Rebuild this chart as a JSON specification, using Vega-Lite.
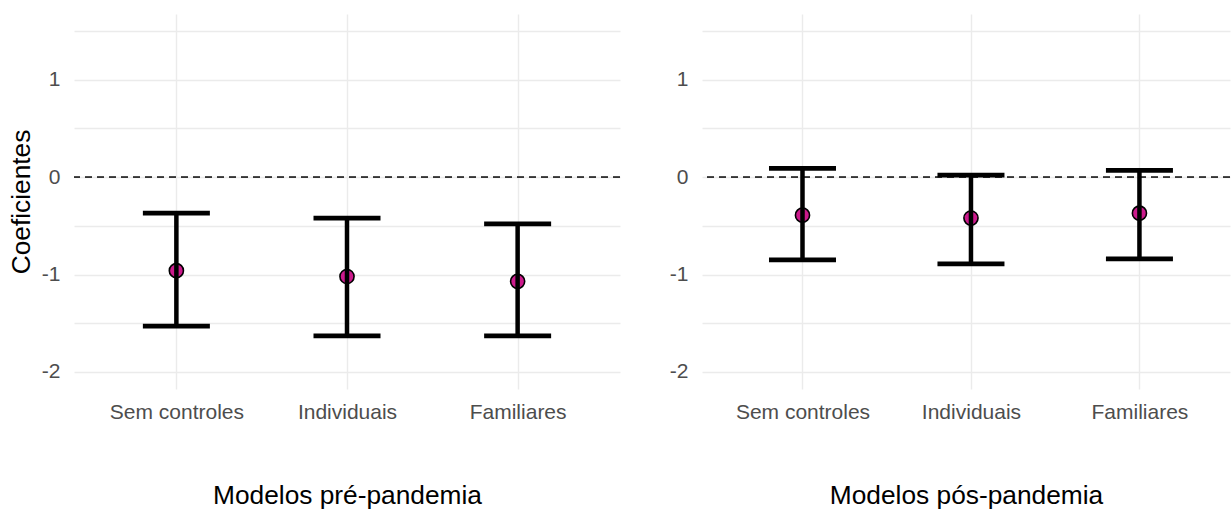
{
  "$schema": "https://vega.github.io/schema/vega-lite/v6.json",
  "background": "white",
  "padding": {"left": 8, "top": 14, "right": 0, "bottom": 0},
  "spacing": 48,
  "config": {
    "view": {"stroke": null},
    "font": "Liberation Sans",
    "axis": {
      "domain": false,
      "ticks": false,
      "grid": true,
      "gridColor": "#EBEBEB",
      "gridWidth": 1.4,
      "labelColor": "#4D4D4D",
      "labelFontSize": 21,
      "labelFont": "Liberation Sans",
      "titleFontSize": 26.3,
      "titleFont": "Liberation Sans",
      "titleFontWeight": "normal",
      "titleColor": "#000000"
    }
  },
  "datasets": {
    "pre": [
      {"modelo": "Sem controles", "est": -0.96, "lo": -1.53, "hi": -0.37},
      {"modelo": "Individuais", "est": -1.02, "lo": -1.63, "hi": -0.42},
      {"modelo": "Familiares", "est": -1.07, "lo": -1.63, "hi": -0.48}
    ],
    "pos": [
      {"modelo": "Sem controles", "est": -0.39, "lo": -0.85, "hi": 0.09},
      {"modelo": "Individuais", "est": -0.42, "lo": -0.89, "hi": 0.02},
      {"modelo": "Familiares", "est": -0.37, "lo": -0.84, "hi": 0.07}
    ]
  },
  "hconcat": [
    {
      "width": 546,
      "height": 375,
      "data": {"name": "pre"},
      "layer": [
        {
          "mark": {"type": "rule", "color": "#333333", "strokeWidth": 1.3, "strokeDash": [7, 5]},
          "encoding": {
            "y": {"datum": 0, "type": "quantitative", "scale": {"domain": [-2.175, 1.675], "nice": false, "zero": false}, "title": "Coeficientes", "axis": {"grid": true, "values": [-2, -1.5, -1, -0.5, 0, 0.5, 1, 1.5], "labelExpr": "datum.value % 1 === 0 ? '' + datum.value : ''", "labelPadding": 14, "titlePadding": 6}}
          }
        },
        {
          "mark": {"type": "circle", "color": "#CC1A8C", "stroke": "black", "strokeWidth": 1.6, "size": 200, "opacity": 1},
          "encoding": {
            "x": {"field": "modelo", "type": "nominal", "sort": ["Sem controles", "Individuais", "Familiares"], "scale": {"type": "point", "padding": 0.6}, "title": "Modelos pré-pandemia", "axis": {"labelAngle": 0, "labelPadding": 12, "titlePadding": 60, "grid": true}},
            "y": {"field": "est", "type": "quantitative", "title": "Coeficientes", "axis": {"grid": true, "values": [-2, -1.5, -1, -0.5, 0, 0.5, 1, 1.5], "labelExpr": "datum.value % 1 === 0 ? '' + datum.value : ''", "labelPadding": 14, "titlePadding": 6}}
          }
        },
        {
          "mark": {"type": "rule", "color": "black", "strokeWidth": 4.5},
          "encoding": {
            "x": {"field": "modelo", "type": "nominal", "sort": ["Sem controles", "Individuais", "Familiares"], "title": "Modelos pré-pandemia"},
            "y": {"field": "lo", "type": "quantitative", "title": "Coeficientes"},
            "y2": {"field": "hi"}
          }
        },
        {
          "mark": {"type": "tick", "color": "black", "thickness": 4.8, "size": 67, "opacity": 1, "orient": "horizontal"},
          "encoding": {
            "x": {"field": "modelo", "type": "nominal", "sort": ["Sem controles", "Individuais", "Familiares"], "title": "Modelos pré-pandemia"},
            "y": {"field": "lo", "type": "quantitative", "title": "Coeficientes"}
          }
        },
        {
          "mark": {"type": "tick", "color": "black", "thickness": 4.8, "size": 67, "opacity": 1, "orient": "horizontal"},
          "encoding": {
            "x": {"field": "modelo", "type": "nominal", "sort": ["Sem controles", "Individuais", "Familiares"], "title": "Modelos pré-pandemia"},
            "y": {"field": "hi", "type": "quantitative", "title": "Coeficientes"}
          }
        }
      ]
    },
    {
      "width": 528,
      "height": 375,
      "data": {"name": "pos"},
      "layer": [
        {
          "mark": {"type": "rule", "color": "#333333", "strokeWidth": 1.3, "strokeDash": [7, 5]},
          "encoding": {
            "y": {"datum": 0, "type": "quantitative", "scale": {"domain": [-2.175, 1.675], "nice": false, "zero": false}, "title": null, "axis": {"grid": true, "values": [-2, -1.5, -1, -0.5, 0, 0.5, 1, 1.5], "labelExpr": "datum.value % 1 === 0 ? '' + datum.value : ''", "labelPadding": 14}}
          }
        },
        {
          "mark": {"type": "circle", "color": "#CC1A8C", "stroke": "black", "strokeWidth": 1.6, "size": 200, "opacity": 1},
          "encoding": {
            "x": {"field": "modelo", "type": "nominal", "sort": ["Sem controles", "Individuais", "Familiares"], "scale": {"type": "point", "padding": 0.567, "align": 0.526}, "title": "Modelos pós-pandemia", "axis": {"labelAngle": 0, "labelPadding": 12, "titlePadding": 60, "grid": true}},
            "y": {"field": "est", "type": "quantitative", "title": null, "axis": {"grid": true, "values": [-2, -1.5, -1, -0.5, 0, 0.5, 1, 1.5], "labelExpr": "datum.value % 1 === 0 ? '' + datum.value : ''", "labelPadding": 14}}
          }
        },
        {
          "mark": {"type": "rule", "color": "black", "strokeWidth": 4.5},
          "encoding": {
            "x": {"field": "modelo", "type": "nominal", "sort": ["Sem controles", "Individuais", "Familiares"], "title": "Modelos pós-pandemia"},
            "y": {"field": "lo", "type": "quantitative", "title": null},
            "y2": {"field": "hi"}
          }
        },
        {
          "mark": {"type": "tick", "color": "black", "thickness": 4.8, "size": 67, "opacity": 1, "orient": "horizontal"},
          "encoding": {
            "x": {"field": "modelo", "type": "nominal", "sort": ["Sem controles", "Individuais", "Familiares"], "title": "Modelos pós-pandemia"},
            "y": {"field": "lo", "type": "quantitative", "title": null}
          }
        },
        {
          "mark": {"type": "tick", "color": "black", "thickness": 4.8, "size": 67, "opacity": 1, "orient": "horizontal"},
          "encoding": {
            "x": {"field": "modelo", "type": "nominal", "sort": ["Sem controles", "Individuais", "Familiares"], "title": "Modelos pós-pandemia"},
            "y": {"field": "hi", "type": "quantitative", "title": null}
          }
        }
      ]
    }
  ]
}
